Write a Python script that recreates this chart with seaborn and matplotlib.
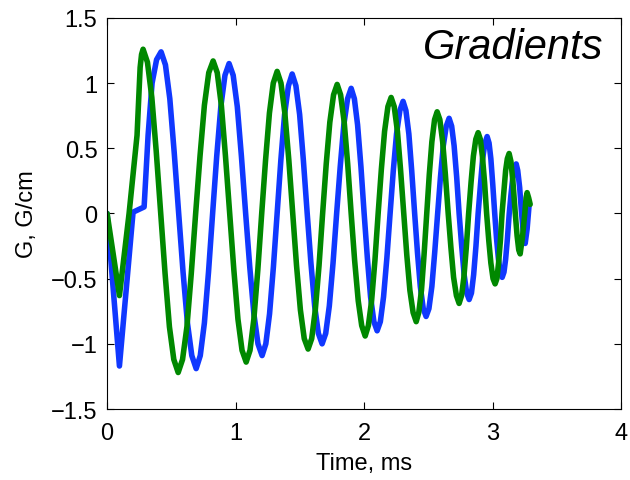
import pandas as pd
import matplotlib
matplotlib.use("Agg")
import matplotlib.pyplot as plt
import seaborn as sns

# -------------------------------
# Datos: (tiempo ms, gradiente G/cm)
# -------------------------------
blue_pts = [
    (0.000, 0.00), (0.096, -1.17), (0.202, 0.01), (0.288, 0.05),
    (0.319, 0.60), (0.350, 1.00), (0.385, 1.18), (0.420, 1.24),
    (0.454, 1.14), (0.488, 0.88), (0.522, 0.47), (0.557, 0.00),
    (0.591, -0.45), (0.625, -0.84), (0.659, -1.09), (0.693, -1.19),
    (0.725, -1.09), (0.757, -0.84), (0.789, -0.45), (0.821, 0.00),
    (0.853, 0.44), (0.885, 0.82), (0.917, 1.06), (0.949, 1.15),
    (0.981, 1.06), (1.013, 0.82), (1.045, 0.44), (1.078, 0.00),
    (1.110, -0.41), (1.142, -0.77), (1.174, -1.00), (1.206, -1.09),
    (1.235, -1.00), (1.264, -0.77), (1.294, -0.41), (1.323, 0.00),
    (1.352, 0.41), (1.381, 0.76), (1.411, 0.98), (1.440, 1.07),
    (1.469, 0.98), (1.498, 0.76), (1.527, 0.41), (1.557, 0.00),
    (1.586, -0.38), (1.615, -0.71), (1.644, -0.92), (1.673, -1.00),
    (1.701, -0.92), (1.729, -0.71), (1.758, -0.38), (1.786, 0.00),
    (1.814, 0.36), (1.842, 0.68), (1.871, 0.88), (1.899, 0.96),
    (1.924, 0.88), (1.949, 0.68), (1.975, 0.36), (2.000, 0.00),
    (2.025, -0.34), (2.050, -0.64), (2.076, -0.83), (2.101, -0.90),
    (2.126, -0.83), (2.151, -0.64), (2.177, -0.34), (2.202, 0.00),
    (2.227, 0.33), (2.252, 0.61), (2.278, 0.79), (2.303, 0.86),
    (2.325, 0.79), (2.348, 0.61), (2.370, 0.33), (2.393, 0.00),
    (2.415, -0.30), (2.437, -0.56), (2.460, -0.73), (2.482, -0.79),
    (2.504, -0.73), (2.527, -0.56), (2.549, -0.30), (2.572, 0.00),
    (2.594, 0.28), (2.616, 0.52), (2.639, 0.67), (2.661, 0.73),
    (2.681, 0.67), (2.700, 0.52), (2.720, 0.28), (2.739, 0.00),
    (2.759, -0.25), (2.778, -0.47), (2.798, -0.61), (2.817, -0.66),
    (2.835, -0.61), (2.852, -0.47), (2.870, -0.25), (2.887, 0.00),
    (2.905, 0.22), (2.922, 0.42), (2.940, 0.54), (2.957, 0.59),
    (2.972, 0.54), (2.986, 0.42), (3.001, 0.22), (3.016, 0.00),
    (3.030, -0.19), (3.045, -0.35), (3.059, -0.45), (3.074, -0.49),
    (3.088, -0.45), (3.101, -0.35), (3.115, -0.19), (3.129, 0.00),
    (3.142, 0.14), (3.156, 0.27), (3.169, 0.35), (3.183, 0.38),
    (3.195, 0.33), (3.210, 0.20), (3.225, 0.00), (3.238, -0.14),
    (3.253, -0.23), (3.268, -0.12), (3.284, 0.07),
]

green_pts = [
    (0.000, 0.00), (0.096, -0.63), (0.171, 0.00), (0.233, 0.60),
    (0.257, 1.12), (0.268, 1.22), (0.280, 1.26),
    (0.314, 1.16), (0.348, 0.89), (0.382, 0.48), (0.417, 0.00),
    (0.451, -0.46), (0.485, -0.87), (0.519, -1.12), (0.553, -1.22),
    (0.587, -1.12), (0.621, -0.87), (0.655, -0.46), (0.689, 0.00),
    (0.723, 0.44), (0.757, 0.83), (0.791, 1.08), (0.825, 1.17),
    (0.857, 1.08), (0.889, 0.83), (0.921, 0.44), (0.954, 0.00),
    (0.986, -0.43), (1.018, -0.81), (1.050, -1.05), (1.082, -1.14),
    (1.112, -1.05), (1.142, -0.81), (1.173, -0.43), (1.203, 0.00),
    (1.233, 0.41), (1.263, 0.77), (1.293, 1.00), (1.323, 1.09),
    (1.353, 1.00), (1.383, 0.77), (1.414, 0.41), (1.444, 0.00),
    (1.474, -0.40), (1.504, -0.74), (1.534, -0.96), (1.564, -1.04),
    (1.592, -0.96), (1.620, -0.74), (1.649, -0.40), (1.677, 0.00),
    (1.705, 0.38), (1.733, 0.70), (1.762, 0.91), (1.790, 0.99),
    (1.817, 0.91), (1.845, 0.70), (1.872, 0.38), (1.899, 0.00),
    (1.926, -0.36), (1.954, -0.67), (1.981, -0.86), (2.008, -0.94),
    (2.033, -0.86), (2.058, -0.67), (2.084, -0.36), (2.109, 0.00),
    (2.134, 0.34), (2.159, 0.63), (2.185, 0.82), (2.210, 0.89),
    (2.234, 0.82), (2.259, 0.63), (2.283, 0.34), (2.308, 0.00),
    (2.332, -0.32), (2.356, -0.59), (2.381, -0.76), (2.405, -0.83),
    (2.425, -0.76), (2.446, -0.59), (2.466, -0.32), (2.487, 0.00),
    (2.507, 0.30), (2.527, 0.55), (2.548, 0.72), (2.568, 0.78),
    (2.589, 0.72), (2.611, 0.55), (2.632, 0.30), (2.654, 0.00),
    (2.675, -0.26), (2.696, -0.49), (2.718, -0.63), (2.739, -0.69),
    (2.758, -0.63), (2.776, -0.49), (2.795, -0.26), (2.813, 0.00),
    (2.832, 0.24), (2.850, 0.44), (2.869, 0.57), (2.887, 0.62),
    (2.904, 0.57), (2.920, 0.44), (2.937, 0.24), (2.953, 0.00),
    (2.970, -0.21), (2.986, -0.38), (3.003, -0.50), (3.019, -0.54),
    (3.033, -0.50), (3.046, -0.38), (3.060, -0.21), (3.073, 0.00),
    (3.087, 0.17), (3.101, 0.33), (3.114, 0.42), (3.128, 0.46),
    (3.142, 0.40), (3.158, 0.24), (3.176, 0.00), (3.190, -0.17),
    (3.203, -0.28), (3.214, -0.31), (3.232, -0.18), (3.250, 0.00),
    (3.260, 0.12), (3.268, 0.16), (3.280, 0.12), (3.292, 0.07),
]

x_ticks = [0, 1, 2, 3, 4]
y_ticks = [-1.5, -1, -0.5, 0, 0.5, 1, 1.5]
y_labels = ["\u22121.5", "\u22121", "\u22120.5", "0", "0.5", "1", "1.5"]

df_blue = pd.DataFrame(blue_pts, columns=["t", "g"])
df_green = pd.DataFrame(green_pts, columns=["t", "g"])

# -------------------------------
# Estilo
# -------------------------------
sns.set_style("ticks")
plt.rcParams['font.family'] = ['Liberation Sans', 'DejaVu Sans']
plt.rcParams['text.color'] = 'black'
plt.rcParams['axes.labelcolor'] = 'black'

fig = plt.figure(figsize=(6.3, 4.81), dpi=100)
ax = fig.add_axes([0.170, 0.1476, 0.816, 0.813])

sns.lineplot(data=df_blue, x="t", y="g", sort=False, color="#1038ff",
             linewidth=4.0, solid_joinstyle="round", ax=ax)
sns.lineplot(data=df_green, x="t", y="g", sort=False, color="#008800",
             linewidth=4.0, solid_joinstyle="round", ax=ax)

ax.set_xlim(0, 4)
ax.set_ylim(-1.5, 1.5)
ax.set_xticks(x_ticks)
ax.set_xticklabels([str(v) for v in x_ticks])
ax.set_yticks(y_ticks)
ax.set_yticklabels(y_labels)
ax.tick_params(direction="in", length=5, width=0.8, labelsize=17,
               top=True, right=True, colors="black")
ax.tick_params(axis="x", pad=9)
ax.tick_params(axis="y", pad=7)
for s in ax.spines.values():
    s.set_visible(True)
    s.set_linewidth(0.8)
    s.set_color("black")

ax.set_xlabel("Time, ms", fontsize=17, labelpad=6)
ax.set_ylabel("G, G/cm", fontsize=17, labelpad=9)
ax.text(3.86, 1.19, "Gradients", fontsize=30, style="italic",
        ha="right", va="baseline")

plt.savefig("out.png", dpi=100)
